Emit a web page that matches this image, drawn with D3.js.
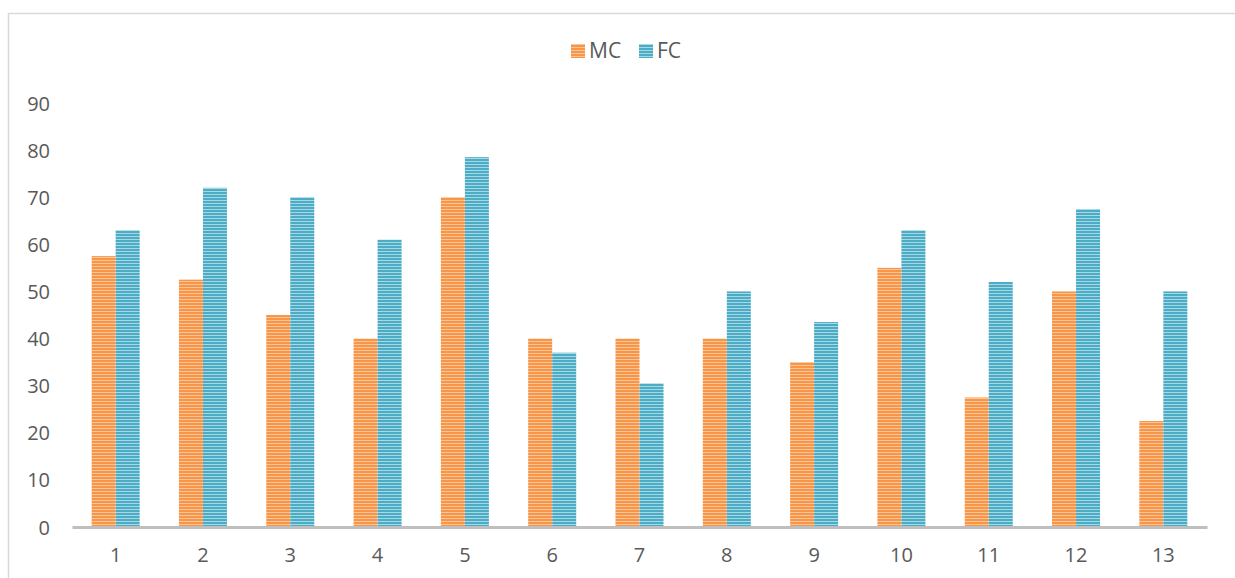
<!DOCTYPE html>
<html><head><meta charset="utf-8">
<script src="https://cdn.jsdelivr.net/npm/d3@7"></script>
<style>body{margin:0;background:#fff}svg{display:block}text{font-family:"Open Sans",Lato,sans-serif;fill:#595959}</style>
</head><body><svg id="c" width="1235" height="578"></svg>
<script>
const categories = ["1","2","3","4","5","6","7","8","9","10","11","12","13"];
const seriesNames = ["MC","FC"];
const mcValues = [57.5,52.5,45,40,70,40,40,40,35,55,27.5,50,22.5];
const fcValues = [63,72,70,61,78.5,37,30.5,50,43.5,63,52,67.5,50];
const yTicks = [0,10,20,30,40,50,60,70,80,90];

const svg = d3.select("#c");
const colors = {MC:["#F79646","#FBC49A"], FC:["#4BACC6","#A9D7E4"]};
const defs = svg.append("defs");
seriesNames.forEach(s=>{
  const p = defs.append("pattern").attr("id","pat"+s).attr("patternUnits","userSpaceOnUse")
    .attr("width",6).attr("height",3);
  p.append("rect").attr("width",6).attr("height",3).attr("fill",colors[s][0]);
  p.append("rect").attr("y",2).attr("width",6).attr("height",1).attr("fill",colors[s][1]);
});

// frame
svg.append("rect").attr("x",8.5).attr("y",13.5).attr("width",1240).attr("height",600)
  .attr("fill","none").attr("stroke","#d9d9d9").attr("stroke-width",1.5);

const x0 = d3.scaleBand().domain(categories).range([72,1207]).paddingInner(0.45).paddingOuter(0.225);
const x1 = d3.scaleBand().domain(seriesNames).range([0,x0.bandwidth()]);
const y = d3.scaleLinear().domain([0,90]).range([527,103]);

const data = categories.map((c,i)=>({c, MC:mcValues[i], FC:fcValues[i]}));
svg.append("g").selectAll("g.grp").data(data).join("g").attr("transform",d=>`translate(${x0(d.c)},0)`)
 .selectAll("rect").data(d=>seriesNames.map(s=>({s,v:d[s]}))).join("rect")
 .attr("x",d=>x1(d.s)).attr("width",x1.bandwidth())
 .attr("y",d=>y(d.v)).attr("height",d=>y(0)-y(d.v))
 .attr("fill",d=>`url(#pat${d.s})`);

// y axis labels
const ya = svg.append("g").attr("transform","translate(50,0)")
  .call(d3.axisLeft(y).tickValues(yTicks).tickSize(0).tickPadding(0));
ya.select(".domain").remove();
ya.selectAll("text").style("font-size","20px").attr("fill","#595959").attr("dy","0.35em");

// x axis
const xa = svg.append("g").attr("transform",`translate(0,${y(0)})`)
  .call(d3.axisBottom(x0).tickSize(0).tickPadding(21));
xa.select(".domain").attr("stroke","#bfbfbf").attr("stroke-width",3);
xa.selectAll("text").style("font-size","20px").attr("fill","#595959");

// legend
const lg = svg.append("g");
const items = [{s:"MC",x:571},{s:"FC",x:639}];
items.forEach(it=>{
  lg.append("rect").attr("x",it.x).attr("y",44).attr("width",14).attr("height",14).attr("fill",`url(#pat${it.s})`);
  lg.append("text").attr("x",it.x+18).attr("y",51).attr("dy","0.35em").style("font-size","21px").text(it.s);
});
</script></body></html>
